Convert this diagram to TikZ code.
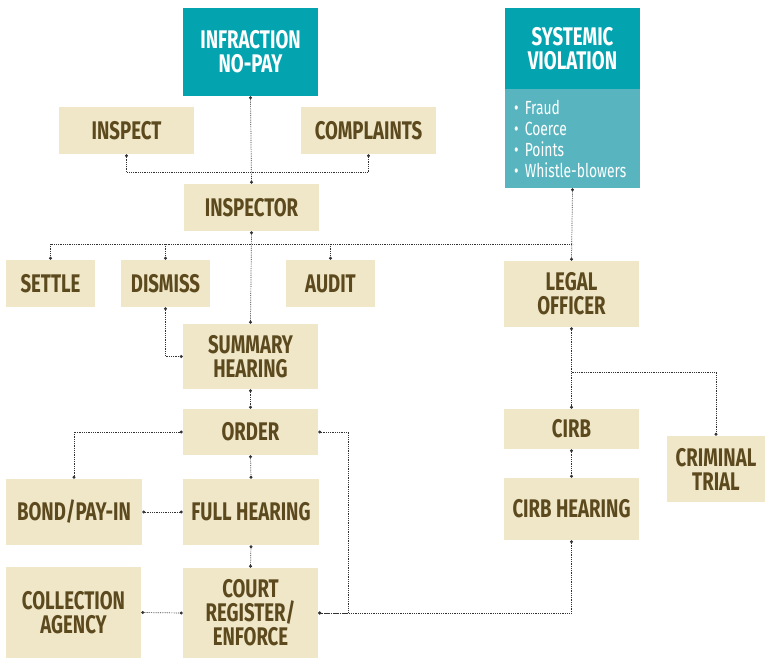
\documentclass[tikz,border=0pt]{standalone}
\usepackage{fontspec}
\newfontfamily\boxfont{Fira Sans}[FakeStretch=0.73]
\usetikzlibrary{arrows.meta}
\definecolor{teal}{HTML}{03A4B0}
\definecolor{lteal}{HTML}{58B5BF}
\definecolor{sand}{HTML}{EFE7C8}
\definecolor{umber}{HTML}{5C4A1E}
\definecolor{wire}{HTML}{333333}
\begin{document}
\begin{tikzpicture}[x=1pt,y=-1pt,
	box/.style={fill=sand,text=umber,inner sep=0,align=center,
		font=\boxfont\bfseries\fontsize{25.5}{24}\selectfont},
	head/.style={box,fill=teal,text=white},
	link/.style={wire,line width=0.7pt,dash pattern=on 0.8pt off 1pt,
		{Circle[length=3pt]}-{Circle[length=3pt]}},
	linkB/.style={link,-{Circle[length=3pt]}},
	bus/.style={link,-}]
	\useasboundingbox (0,0) rectangle (765,658);
	% top row
	\node[head,minimum width=135,minimum height=88] (infr) at (250.5,52) {INFRACTION\\NO-PAY};
	\node[head,minimum width=135,minimum height=81] (sysv) at (572.5,48.5) {SYSTEMIC\\VIOLATION};
	\node[box,fill=lteal,text=white,minimum width=135,minimum height=99,align=left,
		text width=117,font=\boxfont\fontsize{19}{21}\selectfont] (sysl) at (572.5,138.5)
		{\textbullet\ Fraud\\\textbullet\ Coerce\\\textbullet\ Points\\\textbullet\ Whistle-blowers};
	\node[box,minimum width=135,minimum height=47] (inspect) at (126.5,130.5) {INSPECT};
	\node[box,minimum width=135,minimum height=47] (compl) at (368.5,130.5) {COMPLAINTS};
	\node[box,minimum width=135,minimum height=47] (insp) at (251.5,207.5) {INSPECTOR};
	% middle
	\node[box,minimum width=89,minimum height=47] (settle) at (50.5,283.5) {SETTLE};
	\node[box,minimum width=89,minimum height=47] (dismiss) at (165.5,283.5) {DISMISS};
	\node[box,minimum width=89,minimum height=47] (audit) at (330.5,283.5) {AUDIT};
	\node[box,minimum width=135,minimum height=66] (legal) at (571.5,294) {LEGAL\\OFFICER};
	\node[box,minimum width=135,minimum height=65] (summ) at (250.5,356.5) {SUMMARY\\HEARING};
	\node[box,minimum width=135,minimum height=46] (order) at (250.5,432) {ORDER};
	\node[box,minimum width=135,minimum height=40] (cirb) at (571.5,429) {CIRB};
	\node[box,minimum width=98,minimum height=66] (crim) at (716,469) {CRIMINAL\\TRIAL};
	% bottom
	\node[box,minimum width=136,minimum height=66] (bond) at (74,512) {BOND/PAY-IN};
	\node[box,minimum width=136,minimum height=66] (full) at (251,512) {FULL HEARING};
	\node[box,minimum width=135,minimum height=62] (cirbh) at (571.5,509) {CIRB HEARING};
	\node[box,minimum width=135,minimum height=91] (coll) at (73.5,612.5) {COLLECTION\\AGENCY};
	\node[box,minimum width=135,minimum height=90] (court) at (250.5,613) {COURT\\REGISTER/\\ENFORCE};
	\coordinate (bus) at (0,244);
	\coordinate (fork) at (0,372);
	% connectors
	\draw[link] (infr.south) -- (insp.north);
	\draw[link] (inspect.south) -- ++(0,18) -| (compl.south);
	\draw[bus] (settle.north |- bus) -- (sysl.south |- bus);
	\foreach \n in {settle,dismiss,audit}
		\draw[linkB] (\n.north |- bus) -- (\n.north);
	\draw[link] (sysl.south) -- (legal.north);
	\draw[link] (insp.south) -- (summ.north);
	\draw[link] (dismiss.south) |- (summ.west);
	\draw[link] (summ.south) -- (order.north);
	\draw[link] (order.west) -| (bond.north);
	\draw[link] (order.south) -- (full.north);
	\draw[link] (order.east) -- ++(30,0) |- (court.east);
	\draw[link] (bond.east) -- (full.west);
	\draw[link] (full.south) -- (court.north);
	\draw[link] (coll.east) -- (court.west);
	\draw[link] (legal.south) -- (cirb.north);
	\draw[linkB] (legal.south |- fork) -| (crim.north);
	\draw[link] (cirb.south) -- (cirbh.north);
	\draw[link] (cirbh.south) |- (court.east);
\end{tikzpicture}
\end{document}
